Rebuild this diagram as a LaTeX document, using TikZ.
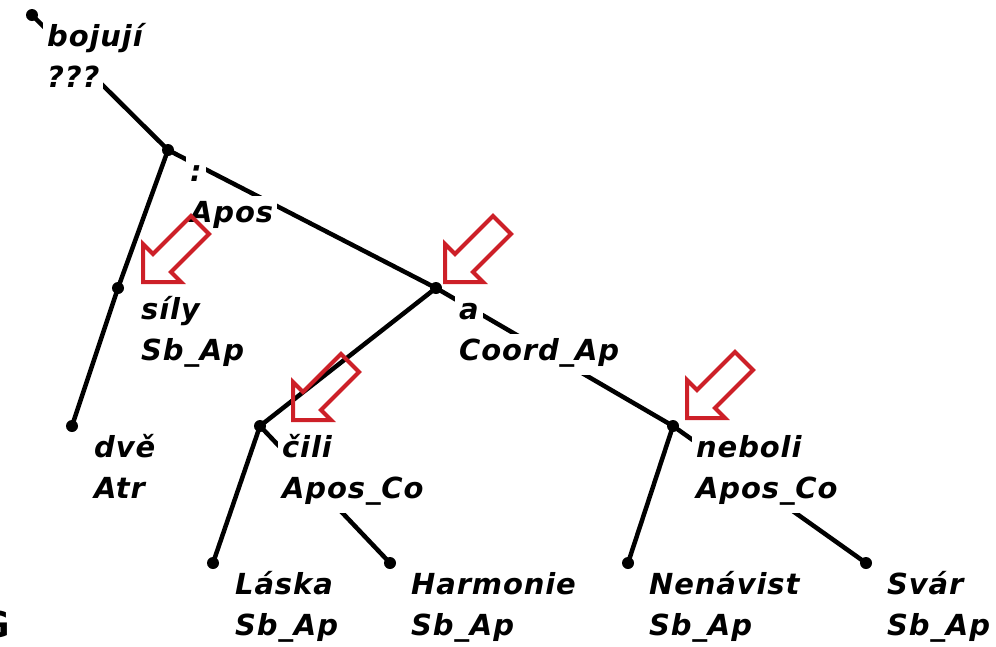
\documentclass[tikz,border=0pt]{standalone}
\usepackage{fontspec}
\usepackage{tikz}
\usetikzlibrary{calc,positioning}
\newfontfamily\treefont[LetterSpace=3]{DejaVu Sans Bold Oblique}
\newfontfamily\edgefont{DejaVu Sans Bold}
\definecolor{arrowred}{RGB}{205,32,40}

\begin{document}
\begin{tikzpicture}[
                x=1pt, y=-1pt,
                dot/.style={circle, fill=black, inner sep=0pt, minimum size=12pt},
                edge/.style={line width=4.5pt},
                lbl/.style={fill=white, inner sep=4pt, anchor=base west, text height=22pt, text depth=11pt,
                    font=\treefont\fontsize{29}{29}\selectfont},
                hollow/.style={draw=arrowred, line width=4pt, line join=miter}
            ]
                \useasboundingbox (0,0) rectangle (996,646);
                \clip (0,0) rectangle (996,646);
                \foreach \n/\x/\y in {root/32/15, colon/168/150, sily/118/288, dve/72/426, coord/436/288,
                    cili/260/426, neboli/673/426, laska/213/563, harmonie/390/563, nenavist/628/563, svar/866/563} {
                    \node [dot] (\n) at (\x,\y) {};
                }
                \foreach \a/\b in {root/colon, colon/sily, sily/dve, colon/coord, coord/cili, coord/neboli,
                    cili/laska, cili/harmonie, neboli/nenavist, neboli/svar} {
                    \draw [edge] (\a.center) -- (\b.center);
                }
                \foreach \n/\dx/\w/\f in {root/11/bojují/???, colon/18/:/Apos, sily/19/síly/Sb\_Ap, dve/18/dvě/Atr,
                    coord/19/a/Coord\_Ap, cili/18/čili/Apos\_Co, neboli/19/neboli/Apos\_Co, laska/18/Láska/Sb\_Ap,
                    harmonie/17/Harmonie/Sb\_Ap, nenavist/17/Nenávist/Sb\_Ap, svar/17/Svár/Sb\_Ap} {
                    \node [lbl] (\n-w) at ([shift={(\dx,31)}]\n.center) {\w};
                    \node [lbl] (\n-f) at ([shift={(\dx,72)}]\n.center) {\f};
                }
                % red markers
                \foreach \n/\dx/\dy in {sily/25/-6, coord/9/-6, cili/33/-6, neboli/14/-8} {
                    \draw [hollow, shift={($(\n.center)+(\dx,\dy)$)}]
                        (0,0) -- (38,0) -- (28,-10) -- (66,-48) -- (48,-66) -- (10,-28) -- (0,-38) -- cycle;
                }
                \node [anchor=base east, inner sep=0pt, font=\edgefont\fontsize{36}{36}\selectfont] (g) at (10,637) {G};
            \end{tikzpicture}
\end{document}
